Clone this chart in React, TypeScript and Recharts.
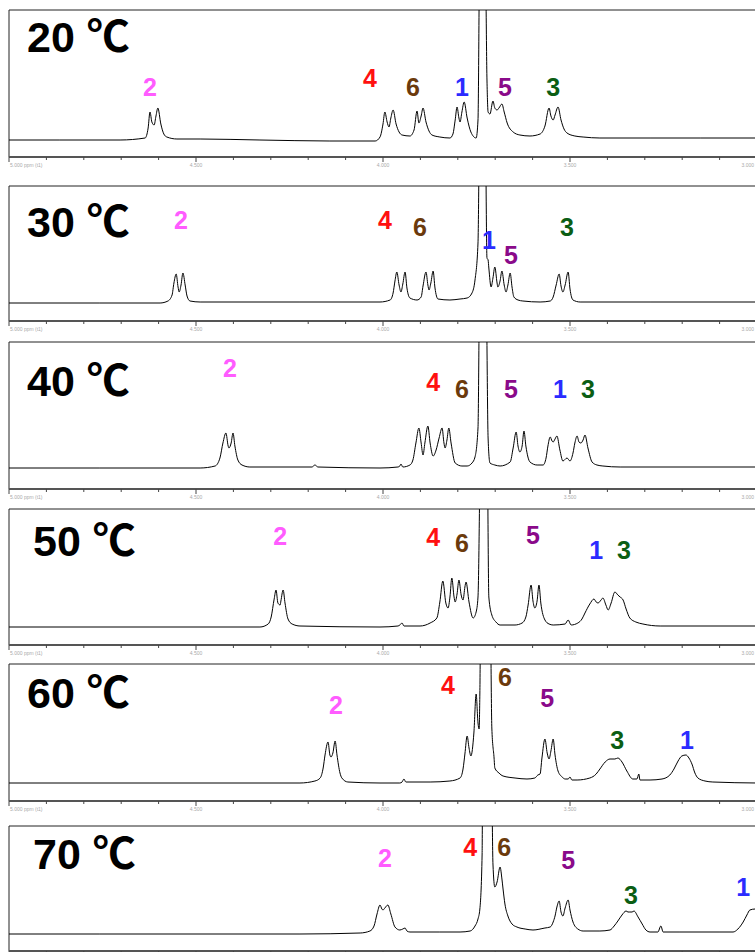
import React from 'react';
import { LineChart, Line, XAxis, YAxis, ReferenceArea, ReferenceDot } from 'recharts';

type Pt = [number, number];
type PeakLabel = [string, number, number];

// chemical shift (ppm), intensity (a.u., 0 = baseline)
const SPEC_20C: Pt[] = [
  [5.0, 0], [4.864, 0], [4.703, 0], [4.636, 2], [4.628, 12], [4.623, 28], [4.618, 18], [4.612, 15],
  [4.607, 24], [4.602, 32], [4.594, 16], [4.586, 6], [4.578, 3], [4.551, 1], [4.489, 1], [4.329, 0],
  [4.142, -1], [4.021, -1], [4.008, 3], [4.0, 16], [3.995, 28], [3.989, 18], [3.984, 13], [3.979, 22],
  [3.973, 30], [3.965, 16], [3.957, 8], [3.949, 5], [3.928, 4], [3.917, 10], [3.909, 29], [3.904, 17],
  [3.898, 24], [3.893, 32], [3.885, 18], [3.877, 9], [3.869, 5], [3.848, 3], [3.821, 2], [3.813, 6],
  [3.807, 20], [3.802, 33], [3.797, 22], [3.794, 18], [3.789, 28], [3.783, 38], [3.775, 22], [3.765, 8],
  [3.751, 2], [3.746, 20], [3.741, 200], [3.727, 200], [3.722, 60], [3.719, 28], [3.714, 26], [3.706, 39],
  [3.701, 32], [3.695, 30], [3.69, 32], [3.682, 36], [3.676, 28], [3.668, 17], [3.652, 8], [3.634, 5],
  [3.607, 4], [3.58, 6], [3.567, 14], [3.556, 32], [3.551, 24], [3.545, 20], [3.54, 25], [3.532, 33],
  [3.524, 20], [3.516, 11], [3.508, 7], [3.487, 4], [3.465, 3], [3.42, 2], [3.286, 2], [3.152, 2], [3.0, 2],
];

const SPEC_30C: Pt[] = [
  [5.0, 0], [4.757, 0], [4.596, 0], [4.575, 2], [4.564, 8], [4.559, 20], [4.553, 29], [4.548, 16],
  [4.545, 11], [4.54, 18], [4.535, 30], [4.529, 18], [4.524, 7], [4.516, 2], [4.489, 1], [4.222, 1],
  [4.008, 1], [3.981, 3], [3.973, 10], [3.968, 22], [3.963, 31], [3.957, 18], [3.952, 11], [3.947, 19],
  [3.941, 31], [3.936, 15], [3.928, 5], [3.909, 3], [3.898, 6], [3.893, 17], [3.885, 31], [3.88, 18],
  [3.877, 13], [3.872, 20], [3.866, 32], [3.861, 15], [3.853, 4], [3.821, 3], [3.794, 4], [3.775, 5],
  [3.762, 10], [3.754, 23], [3.746, 60], [3.741, 200], [3.727, 200], [3.722, 45], [3.719, 43], [3.717, 35],
  [3.711, 16], [3.706, 25], [3.701, 36], [3.695, 20], [3.693, 16], [3.687, 22], [3.682, 32], [3.676, 18],
  [3.671, 11], [3.666, 18], [3.66, 30], [3.655, 16], [3.65, 6], [3.639, 3], [3.626, 2], [3.58, 1],
  [3.553, 2], [3.545, 6], [3.537, 18], [3.529, 29], [3.524, 17], [3.519, 11], [3.513, 18], [3.505, 31],
  [3.5, 14], [3.492, 3], [3.473, 1], [3.286, 1], [3.0, 1],
];

const SPEC_40C: Pt[] = [
  [5.0, 0], [4.757, 0], [4.489, 0], [4.449, 2], [4.436, 10], [4.428, 25], [4.42, 35], [4.414, 22],
  [4.412, 20], [4.406, 25], [4.401, 35], [4.396, 22], [4.388, 8], [4.377, 3], [4.356, 1], [4.19, 1],
  [4.182, 3], [4.174, 1], [4.008, 0], [3.96, 1], [3.955, 2], [3.952, 4], [3.947, 1], [3.928, 3],
  [3.92, 8], [3.912, 25], [3.904, 40], [3.898, 25], [3.893, 13], [3.888, 25], [3.88, 42], [3.874, 25],
  [3.866, 12], [3.858, 18], [3.85, 30], [3.842, 40], [3.837, 25], [3.834, 20], [3.829, 28], [3.824, 40],
  [3.818, 25], [3.807, 5], [3.789, 2], [3.775, 2], [3.762, 5], [3.754, 11], [3.746, 40], [3.741, 200],
  [3.725, 200], [3.719, 30], [3.714, 5], [3.701, 3], [3.687, 2], [3.66, 6], [3.652, 20], [3.644, 36],
  [3.639, 22], [3.634, 16], [3.628, 22], [3.623, 37], [3.618, 22], [3.607, 6], [3.588, 3], [3.572, 3],
  [3.564, 10], [3.559, 22], [3.553, 31], [3.548, 27], [3.545, 26], [3.54, 29], [3.535, 32], [3.527, 18],
  [3.519, 7], [3.508, 10], [3.5, 7], [3.492, 15], [3.487, 25], [3.481, 32], [3.476, 26], [3.471, 25],
  [3.465, 28], [3.46, 33], [3.452, 20], [3.441, 6], [3.428, 3], [3.412, 2], [3.366, 1], [3.0, 1],
];

const SPEC_50C: Pt[] = [
  [5.0, 0], [4.623, 0], [4.329, 0], [4.307, 3], [4.299, 10], [4.291, 28], [4.286, 37], [4.281, 24],
  [4.275, 22], [4.273, 26], [4.267, 37], [4.262, 24], [4.254, 8], [4.243, 3], [4.222, 1], [4.008, 0],
  [3.96, 1], [3.955, 2], [3.949, 4], [3.944, 1], [3.901, 1], [3.874, 4], [3.856, 9], [3.848, 25],
  [3.84, 46], [3.832, 24], [3.826, 19], [3.821, 30], [3.816, 49], [3.81, 30], [3.807, 25], [3.802, 33],
  [3.797, 47], [3.791, 32], [3.786, 27], [3.781, 40], [3.778, 45], [3.77, 25], [3.759, 9], [3.751, 15],
  [3.746, 30], [3.738, 200], [3.722, 200], [3.717, 30], [3.709, 12], [3.698, 5], [3.687, 2], [3.647, 2],
  [3.628, 4], [3.618, 10], [3.612, 22], [3.604, 42], [3.599, 26], [3.594, 19], [3.588, 26], [3.583, 42],
  [3.578, 24], [3.567, 7], [3.556, 3], [3.545, 2], [3.513, 3], [3.505, 7], [3.497, 2], [3.479, 4],
  [3.468, 8], [3.46, 14], [3.447, 23], [3.436, 28], [3.43, 25], [3.425, 24], [3.417, 27], [3.412, 29],
  [3.404, 22], [3.398, 17], [3.39, 24], [3.38, 35], [3.372, 32], [3.366, 30], [3.358, 27], [3.35, 18],
  [3.34, 9], [3.324, 5], [3.305, 3], [3.259, 1], [3.0, 1],
];

const SPEC_60C: Pt[] = [
  [5.0, 0], [4.623, 0], [4.222, 0], [4.182, 2], [4.168, 5], [4.16, 15], [4.155, 28], [4.147, 41],
  [4.142, 28], [4.139, 26], [4.134, 30], [4.128, 42], [4.123, 28], [4.115, 10], [4.11, 5], [4.094, 1],
  [4.008, 0], [3.955, 0], [3.949, 1], [3.944, 4], [3.939, 1], [3.874, 1], [3.821, 2], [3.794, 5],
  [3.786, 14], [3.781, 29], [3.775, 47], [3.77, 35], [3.765, 27], [3.757, 50], [3.751, 89], [3.746, 60],
  [3.743, 54], [3.741, 90], [3.738, 200], [3.714, 200], [3.709, 55], [3.703, 25], [3.701, 15], [3.69, 10],
  [3.679, 7], [3.647, 5], [3.615, 4], [3.594, 5], [3.586, 8], [3.58, 9], [3.575, 25], [3.567, 44],
  [3.561, 30], [3.556, 24], [3.551, 32], [3.545, 44], [3.54, 28], [3.532, 12], [3.521, 6], [3.513, 4],
  [3.505, 4], [3.5, 6], [3.495, 3], [3.481, 3], [3.447, 5], [3.43, 9], [3.42, 14], [3.406, 21],
  [3.393, 24], [3.385, 24], [3.38, 24], [3.372, 25], [3.361, 21], [3.348, 12], [3.332, 4], [3.321, 4],
  [3.316, 9], [3.313, 3], [3.286, 3], [3.254, 4], [3.233, 8], [3.222, 14], [3.211, 22], [3.201, 27],
  [3.19, 28], [3.182, 25], [3.174, 19], [3.166, 10], [3.158, 5], [3.139, 2], [3.118, 1], [3.0, 0],
];

const SPEC_70C: Pt[] = [
  [5.0, 0], [4.757, 0], [4.222, 0], [4.061, 1], [4.035, 3], [4.024, 8], [4.016, 20], [4.008, 29],
  [4.003, 25], [4.0, 24], [3.995, 26], [3.987, 29], [3.979, 20], [3.968, 7], [3.955, 4], [3.947, 5],
  [3.941, 6], [3.936, 3], [3.928, 2], [3.848, 2], [3.794, 2], [3.767, 3], [3.754, 8], [3.746, 15],
  [3.741, 25], [3.735, 80], [3.733, 200], [3.711, 200], [3.706, 70], [3.701, 47], [3.695, 52], [3.687, 67],
  [3.682, 55], [3.679, 45], [3.674, 30], [3.666, 18], [3.655, 10], [3.642, 7], [3.62, 5], [3.599, 4],
  [3.567, 6], [3.553, 7], [3.545, 12], [3.54, 18], [3.535, 27], [3.529, 33], [3.524, 22], [3.519, 18],
  [3.513, 26], [3.505, 34], [3.5, 24], [3.492, 12], [3.479, 5], [3.465, 3], [3.42, 3], [3.393, 4],
  [3.382, 8], [3.372, 13], [3.361, 19], [3.35, 23], [3.345, 22], [3.34, 22], [3.334, 22], [3.329, 23],
  [3.318, 17], [3.307, 10], [3.297, 4], [3.286, 2], [3.265, 2], [3.257, 8], [3.251, 2], [3.206, 2],
  [3.099, 2], [3.064, 2], [3.051, 5], [3.037, 12], [3.027, 19], [3.019, 24], [3.005, 25], [3.0, 24],
];

// peak assignments: [proton, ppm, height]
const LABELS_20C: PeakLabel[] = [['2', 4.623, 53], ['4', 4.035, 62], ['6', 3.92, 53], ['1', 3.789, 53], ['5', 3.674, 53], ['3', 3.545, 53]];
const LABELS_30C: PeakLabel[] = [['2', 4.54, 83], ['4', 3.995, 83], ['6', 3.901, 76], ['1', 3.717, 63], ['5', 3.658, 48], ['3', 3.508, 76]];
const LABELS_40C: PeakLabel[] = [['2', 4.409, 100], ['4', 3.866, 86], ['6', 3.789, 79], ['5', 3.658, 79], ['1', 3.527, 79], ['3', 3.452, 79]];
const LABELS_50C: PeakLabel[] = [['2', 4.275, 91], ['4', 3.866, 90], ['6', 3.789, 84], ['5', 3.599, 92], ['1', 3.43, 77], ['3', 3.356, 77]];
const LABELS_60C: PeakLabel[] = [['2', 4.126, 78], ['4', 3.826, 98], ['6', 3.674, 106], ['5', 3.561, 85], ['3', 3.374, 43], ['1', 3.187, 43]];
const LABELS_70C: PeakLabel[] = [['2', 3.995, 76], ['4', 3.767, 87], ['6', 3.676, 87], ['5', 3.505, 74], ['3', 3.337, 39], ['1', 3.037, 47]];

const PPM_TICKS = [5.0, 4.9, 4.8, 4.7, 4.6, 4.5, 4.4, 4.3, 4.2, 4.1, 4.0, 3.9, 3.8, 3.7, 3.6, 3.5, 3.4, 3.3, 3.2, 3.1, 3.0];

const PEAK_COLORS: Record<string, string> = {
  '1': '#2b2bff',
  '2': '#ff5cff',
  '3': '#0b5e14',
  '4': '#ff1010',
  '5': '#8a0a8a',
  '6': '#6b3a0c',
};

const SANS = '"Liberation Sans", Arial, "Noto Sans CJK JP", sans-serif';

// page layout of each spectrum box (px)
const PANELS = [
  { title: '20 ℃', spec: SPEC_20C, labels: LABELS_20C, top: 10, bottom: 157, base: 140, titleX: 27, titleY: 52 },
  { title: '30 ℃', spec: SPEC_30C, labels: LABELS_30C, top: 186, bottom: 321, base: 303, titleX: 27, titleY: 237 },
  { title: '40 ℃', spec: SPEC_40C, labels: LABELS_40C, top: 342, bottom: 489, base: 468, titleX: 27, titleY: 396 },
  { title: '50 ℃', spec: SPEC_50C, labels: LABELS_50C, top: 509, bottom: 645, base: 627, titleX: 33, titleY: 556 },
  { title: '60 ℃', spec: SPEC_60C, labels: LABELS_60C, top: 664, bottom: 801, base: 783, titleX: 27, titleY: 708 },
  { title: '70 ℃', spec: SPEC_70C, labels: LABELS_70C, top: 826, bottom: 951, base: 934, titleX: 33, titleY: 869 },
];

const makeTick = (withText: boolean) => (props: any) => {
  const { x, y, payload } = props;
  const v: number = payload.value;
  const major = Math.abs(v * 2 - Math.round(v * 2)) < 1e-6;
  let label = null;
  if (withText && major) {
    const anchor = v === 5 ? 'start' : v === 3 ? 'end' : 'middle';
    const dx = v === 5 ? 1 : v === 3 ? -3 : 0;
    label = (
      <text x={x + dx} y={y + 10} textAnchor={anchor} fontSize={5} fill="#aaa" fontFamily={SANS}>
        {v === 5 ? `${v.toFixed(3)} ppm (t1)` : v.toFixed(3)}
      </text>
    );
  }
  return (
    <g>
      <line x1={x} x2={x} y1={y} y2={y + (major ? 5 : 3)} stroke="#444" strokeWidth={1} />
      {label}
    </g>
  );
};

const SpectrumPanel = ({ panel, last }: { panel: (typeof PANELS)[number]; last: boolean }) => {
  const plotH = panel.bottom - panel.top;
  const yDomain: [number, number] = [panel.base - panel.bottom, panel.base - panel.top];
  const data = panel.spec.map(([ppm, i]) => ({ ppm, i }));
  return (
    <>
      <div style={{ position: 'absolute', left: 0, top: panel.top - 1 }}>
        <LineChart
          width={760}
          height={plotH + 1 + 24}
          data={data}
          margin={{ top: 1, right: 3, bottom: 0, left: 9 }}
        >
          <XAxis
            type="number"
            dataKey="ppm"
            domain={[3, 5]}
            reversed
            allowDataOverflow
            ticks={PPM_TICKS}
            interval={0}
            tickSize={0}
            tickMargin={0}
            tickLine={false}
            axisLine={{ stroke: '#555', strokeWidth: 2 }}
            tick={makeTick(!last)}
            height={24}
          />
          <YAxis type="number" domain={yDomain} hide allowDataOverflow />
          <ReferenceArea
            x1={5}
            x2={3}
            y1={yDomain[0]}
            y2={yDomain[1]}
            fill="none"
            stroke="#222"
            strokeWidth={1}
            ifOverflow="visible"
          />
          <Line
            type="monotone"
            dataKey="i"
            stroke="#000"
            strokeWidth={1}
            dot={false}
            isAnimationActive={false}
          />
          {panel.labels.map(([n, x, y]) => (
            <ReferenceDot
              key={n}
              x={x}
              y={y}
              r={0}
              fill="none"
              stroke="none"
              ifOverflow="visible"
              label={{
                value: n,
                position: 'center',
                fill: PEAK_COLORS[n],
                fontSize: 25,
                fontWeight: 'bold',
                fontFamily: SANS,
              }}
            />
          ))}
        </LineChart>
      </div>
      <div
        style={{
          position: 'absolute',
          left: panel.titleX,
          top: panel.titleY - 36.4,
          fontFamily: SANS,
          fontWeight: 'bold',
          fontSize: 43,
          lineHeight: '43px',
          whiteSpace: 'nowrap',
          color: '#000',
        }}
      >
        {panel.title}
      </div>
    </>
  );
};

export default function App() {
  return (
    <div
      style={{
        position: 'fixed',
        left: 0,
        top: 0,
        width: 755,
        height: 952,
        overflow: 'hidden',
        background: '#fff',
      }}
    >
      {PANELS.map((p, idx) => (
        <SpectrumPanel key={p.title} panel={p} last={idx === PANELS.length - 1} />
      ))}
    </div>
  );
}
